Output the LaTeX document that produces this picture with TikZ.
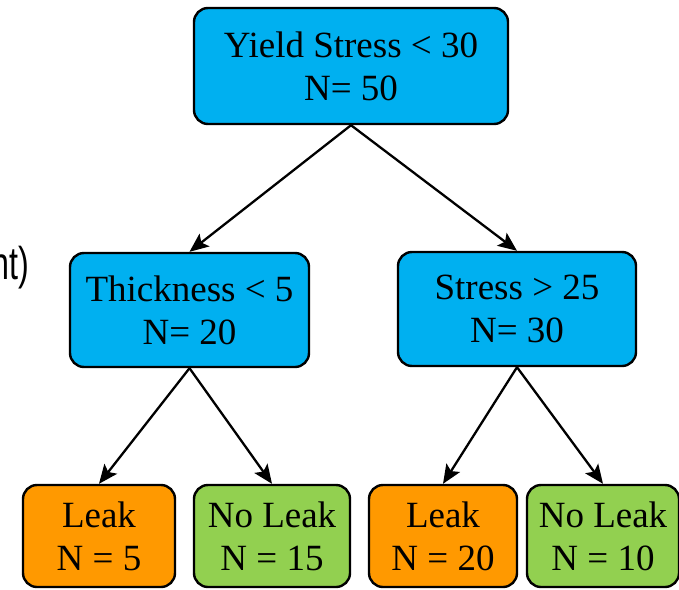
\documentclass[tikz,border=0pt]{standalone}
\usepackage{fontspec}
\setmainfont{Liberation Serif}
\newfontfamily\narrowsans{Liberation Sans}
\usepackage{tikz}
\usetikzlibrary{arrows.meta,positioning}

\definecolor{splitblue}{HTML}{00B0F0}
\definecolor{leakorange}{HTML}{FF9900}
\definecolor{noleakgreen}{HTML}{92D050}
\tikzset{
  split/.style={draw=black,line width=2.4pt,rounded corners=14pt,fill=splitblue,
    align=center,inner sep=0pt,minimum width=238pt,minimum height=114pt,
    font=\fontsize{37}{43}\selectfont},
  leaf/.style={split,minimum height=102pt},
  leak/.style={leaf,fill=leakorange},
  noleak/.style={leaf,fill=noleakgreen},
  branch/.style={line width=2.3pt,-{Stealth[length=19pt,width=16pt,inset=4pt]}}
}

\begin{document}
\begin{tikzpicture}[x=1pt,y=-1pt]
    \useasboundingbox (0,0) rectangle (679,589);

    \node[split,minimum width=314pt,minimum height=116pt] (root) at (351,66) {Yield Stress < 30\\N= 50};
    \node[split,minimum width=239pt] (thick) at (189.5,310) {Thickness < 5\\N= 20};
    \node[split] (stress) at (517,309) {Stress > 25\\N= 30};

    \node[leak,minimum width=152pt]   (leaf1) at (99,536)  {Leak\\N = 5};
    \node[noleak,minimum width=156pt] (leaf2) at (272,536) {No Leak\\N = 15};
    \node[leak,minimum width=148pt]   (leaf3) at (443,536) {Leak\\N = 20};
    \node[noleak,minimum width=152pt] (leaf4) at (603,536) {No Leak\\N = 10};

    \node[anchor=base east,inner sep=0pt,xscale=0.7,font=\narrowsans\fontsize{46}{50}\selectfont] (cut) at (29,279) {nt)};

    \draw[branch] (root.south) -- (thick.north);
    \draw[branch] (root.south) -- (stress.north);
    \draw[branch] (thick.south) -- (leaf1.north);
    \draw[branch] (thick.south) -- (leaf2.north);
    \draw[branch] (stress.south) -- (leaf3.north);
    \draw[branch] (stress.south) -- (leaf4.north);

\end{tikzpicture}
\end{document}
